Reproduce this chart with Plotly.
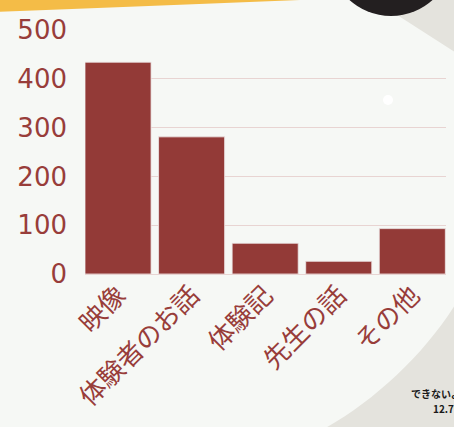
import plotly.graph_objects as go

categories = ["映像", "体験者のお話", "体験記", "先生の話", "その他"]
counts = [434, 281, 63, 26, 93]
y_ticks = [0, 100, 200, 300, 400, 500]

BAR = "#933a37"
TXT = "#983d3a"
LIGHT = "#f6f8f5"
GRAY = "#e4e3dd"

fig = go.Figure()
fig.add_trace(go.Bar(
    x=categories, y=counts,
    marker=dict(color=BAR, line=dict(color="#efe9e8", width=0.8)),
    width=0.898,
    hoverinfo="x+y",
))

W, H = 454, 427
pl, pr, pt, pb = 85, 8, 30, 153
pw, ph = W - pl - pr, H - pt - pb

fig.update_layout(
    width=W, height=H,
    margin=dict(l=pl, r=pr, t=pt, b=pb),
    paper_bgcolor=GRAY,
    plot_bgcolor="rgba(0,0,0,0)",
    showlegend=False,
    xaxis=dict(
        range=[-0.449, 4.458],
        tickangle=-45,
        tickfont=dict(family="Noto Sans CJK JP", size=26, color=TXT),
        showgrid=False, zeroline=False, showline=False, ticks="",
    ),
    yaxis=dict(
        range=[0, 500],
        tickvals=y_ticks,
        tickfont=dict(family="DejaVu Sans", size=26, color=TXT),
        showgrid=True, gridcolor="#e8d4d2", gridwidth=1,
        zeroline=True, zerolinecolor="#e8d4d2", zerolinewidth=1,
        showline=False, ticks="", ticklabelstandoff=17,
    ),
)

def px(x):
    return (x - pl) / pw

def py(y):
    return (H - pb - y) / ph

shapes = [
    dict(type="path", xref="paper", yref="paper", layer="below",
         path=(f"M {px(-5)} {py(-5)} L {px(-5)} {py(432)} L {px(318)} {py(432)} "
               f"C {px(370)} {py(405)} {px(425)} {py(355)} {px(458)} {py(300)} "
               f"L {px(458)} {py(54)} L {px(380)} {py(4)} L {px(380)} {py(-5)} Z"),
         fillcolor=LIGHT, line=dict(width=0)),
    dict(type="path", xref="paper", yref="paper", layer="above",
         path=(f"M {px(-5)} {py(-5)} L {px(-5)} {py(12)} "
               f"Q {px(150)} {py(6)} {px(300)} {py(0)} L {px(300)} {py(-5)} Z"),
         fillcolor="#f4bc47", line=dict(width=0)),
    dict(type="circle", xref="paper", yref="paper", layer="above",
         x0=px(329), x1=px(453), y0=py(-108), y1=py(16),
         fillcolor="#231f20", line=dict(width=0)),
    dict(type="circle", xref="paper", yref="paper", layer="above",
         x0=px(383), x1=px(393), y0=py(95), y1=py(105),
         fillcolor="#ffffff", line=dict(width=0)),
]
fig.update_layout(shapes=shapes)

fig.add_annotation(xref="paper", yref="paper", x=px(409), y=py(393),
                   xanchor="left", yanchor="middle", showarrow=False,
                   text="<b>できないよ</b>",
                   font=dict(family="Noto Sans CJK JP", size=10, color="#1a1a1a"))
fig.add_annotation(xref="paper", yref="paper", x=px(431), y=py(408),
                   xanchor="left", yanchor="middle", showarrow=False,
                   text="<b>12.7%</b>",
                   font=dict(family="Noto Sans CJK JP", size=10, color="#1a1a1a"))

fig.write_html("out.html", config={"displayModeBar": False},
               post_script="document.body.style.margin='0';document.body.style.overflow='hidden';")
